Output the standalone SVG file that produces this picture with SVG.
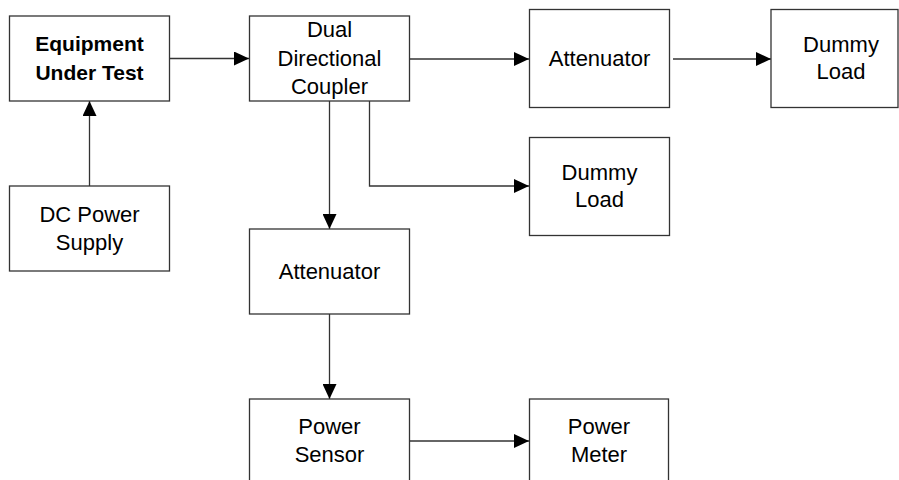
<svg xmlns="http://www.w3.org/2000/svg" width="899" height="480" viewBox="0 0 899 480">
<defs>
<style>
.box{fill:#fff;stroke:#333;stroke-width:1.3}
.t{font-family:"Liberation Sans",Arial,sans-serif;font-size:22px;fill:#000;text-anchor:middle}
.b{font-weight:bold;font-size:21px}
.c{fill:none;stroke:#333;stroke-width:1.3}
</style>
<marker id="ah" viewBox="0 0 15 14" refX="15" refY="7" markerWidth="15" markerHeight="14" markerUnits="userSpaceOnUse" orient="auto">
<path d="M0,0 L15,7 L0,14 z" fill="#000"/>
</marker>
</defs>
<rect width="899" height="480" fill="#fff"/>
<g id="connectors">
<path class="c" d="M169.5,58.5 H249" marker-end="url(#ah)"/>
<path class="c" d="M89.5,186 V101" marker-end="url(#ah)"/>
<path class="c" d="M409.5,59 H529" marker-end="url(#ah)"/>
<path class="c" d="M673,59 H771" marker-end="url(#ah)"/>
<path class="c" d="M329.5,101 V229" marker-end="url(#ah)"/>
<path class="c" d="M369.5,101 V186 H529" marker-end="url(#ah)"/>
<path class="c" d="M329.5,314 V399" marker-end="url(#ah)"/>
<path class="c" d="M409.5,441 H529" marker-end="url(#ah)"/>
</g>
<g id="eut">
<rect class="box" x="9.5" y="16" width="160" height="85"/>
<text class="t b" x="89.5" y="51">Equipment</text>
<text class="t b" x="89.5" y="80">Under Test</text>
</g>
<g id="ddc">
<rect class="box" x="249.5" y="16" width="160" height="85"/>
<text class="t" x="329.5" y="37">Dual</text>
<text class="t" x="329.5" y="66">Directional</text>
<text class="t" x="329.5" y="94">Coupler</text>
</g>
<g id="att1">
<rect class="box" x="529.5" y="9.5" width="140" height="98"/>
<text class="t" x="599.5" y="66">Attenuator</text>
</g>
<g id="load1">
<rect class="box" x="771" y="9.5" width="127" height="98"/>
<text class="t" x="841" y="52">Dummy</text>
<text class="t" x="841" y="79">Load</text>
</g>
<g id="dc">
<rect class="box" x="9.5" y="186" width="160" height="85"/>
<text class="t" x="89.5" y="222">DC Power</text>
<text class="t" x="89.5" y="250">Supply</text>
</g>
<g id="load2">
<rect class="box" x="529.5" y="137.5" width="140" height="98"/>
<text class="t" x="599.5" y="180">Dummy</text>
<text class="t" x="599.5" y="207">Load</text>
</g>
<g id="att2">
<rect class="box" x="249.5" y="229" width="160" height="85"/>
<text class="t" x="329.5" y="279">Attenuator</text>
</g>
<g id="sensor">
<rect class="box" x="249.5" y="399" width="160" height="86"/>
<text class="t" x="329.5" y="434">Power</text>
<text class="t" x="329.5" y="462">Sensor</text>
</g>
<g id="meter">
<rect class="box" x="529.5" y="399" width="139" height="86"/>
<text class="t" x="599" y="434">Power</text>
<text class="t" x="599" y="462">Meter</text>
</g>
</svg>
